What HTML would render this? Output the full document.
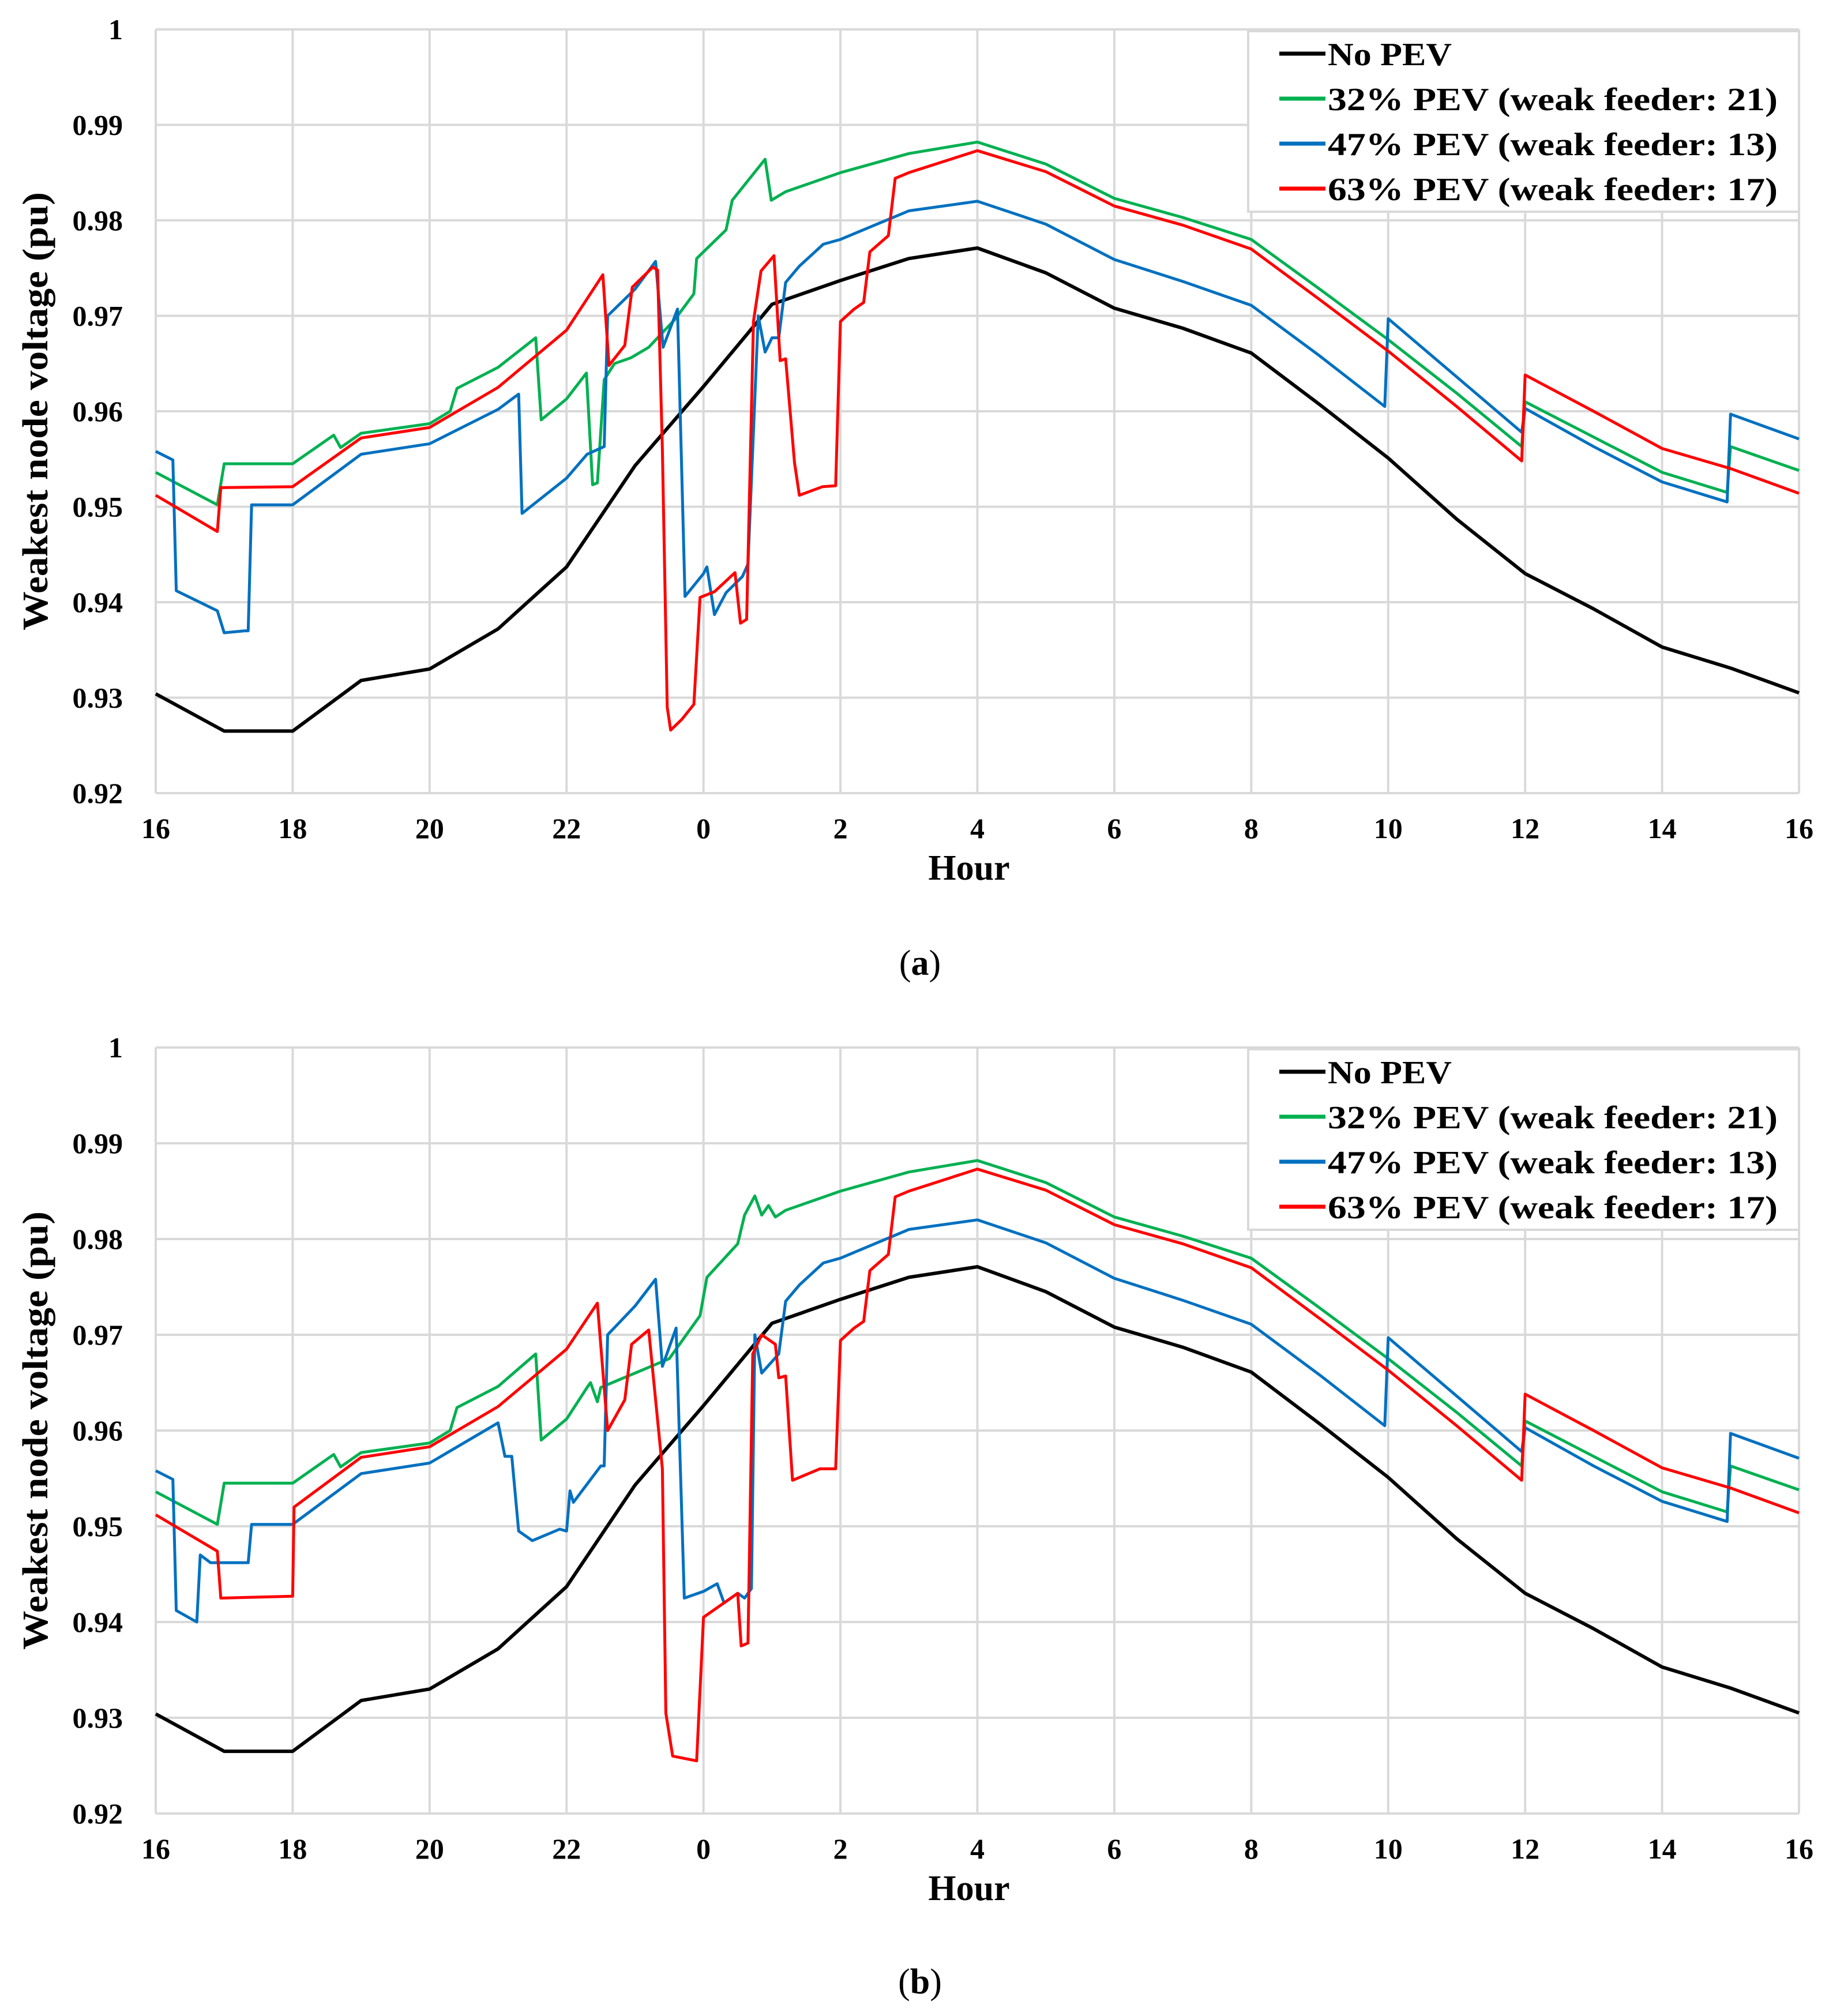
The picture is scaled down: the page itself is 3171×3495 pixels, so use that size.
<!DOCTYPE html>
<html><head><meta charset="utf-8"><style>
html,body{margin:0;padding:0;background:#fff;}
svg{display:block;font-family:"Liberation Serif",serif;font-weight:bold;}
</style></head><body>
<svg id="fig" width="3171" height="3495" viewBox="0 0 3171 3495" xmlns="http://www.w3.org/2000/svg"></svg>
<script>
const xTickLabels = ["16","18","20","22","0","2","4","6","8","10","12","14","16"];
const yTickLabels = ["0.92","0.93","0.94","0.95","0.96","0.97","0.98","0.99","1"];
const yTickValues = [0.92,0.93,0.94,0.95,0.96,0.97,0.98,0.99,1.0];
const seriesNames = ["No PEV","32% PEV (weak feeder: 21)","47% PEV (weak feeder: 13)","63% PEV (weak feeder: 17)"];
const seriesColors = ["#000000","#00b050","#0070c0","#ff0000"];

// hours measured continuously from 16 (16..40)
const noPevH = [16,17,18,19,20,21,22,23,24,25,26,27,28,29,30,31,32,33,34,35,36,37,38,39,40];
const noPevV = [0.9304,0.9265,0.9265,0.9318,0.9330,0.9372,0.9437,0.9543,0.9626,0.9712,0.9737,0.9760,0.9771,0.9745,0.9708,0.9687,0.9661,0.9607,0.9551,0.9487,0.9430,0.9393,0.9353,0.9331,0.9305];

const tailH = [26,27,28,29,30,31,32,33,34,35,35.95,36,37,38,38.95,39,40];
const greenTailV = [0.9850,0.9870,0.9882,0.9859,0.9823,0.9803,0.9780,0.9728,0.9675,0.9619,0.9563,0.9610,0.9573,0.9536,0.9515,0.9563,0.9538];

const greenAH = [16,16.9,17,18,18.6,18.7,19,20,20.3,20.4,21,21.55,21.63,22,22.29,22.38,22.45,22.55,22.7,22.94,23.2,23.58,23.86,23.9,24.33,24.42,24.9,24.99,25.2];
const greenAV = [0.9536,0.9502,0.9545,0.9545,0.9575,0.9562,0.9577,0.9587,0.9600,0.9624,0.9646,0.9677,0.9591,0.9613,0.9640,0.9523,0.9525,0.9633,0.9650,0.9656,0.9667,0.9696,0.9723,0.9760,0.9790,0.9821,0.9864,0.9821,0.9830];
const greenBH = [16,16.9,17,18,18.6,18.7,19,20,20.3,20.4,21,21.55,21.63,22,22.3,22.35,22.45,22.5,23,23.5,23.95,24.05,24.5,24.6,24.75,24.85,24.95,25.05,25.2];
const greenBV = [0.9536,0.9502,0.9545,0.9545,0.9575,0.9562,0.9577,0.9587,0.9600,0.9624,0.9646,0.9680,0.9590,0.9612,0.9645,0.9650,0.9630,0.9645,0.9660,0.9675,0.9720,0.9760,0.9795,0.9825,0.9845,0.9825,0.9835,0.9823,0.9830];

const blueTailH = [25.2,25.4,25.75,26,27,28,29,30,31,32,33,33.95,34,35,35.95,36,37,38,38.95,39,40];
const blueTailV = [0.9735,0.9752,0.9775,0.9780,0.9810,0.9820,0.9796,0.9759,0.9736,0.9711,0.9658,0.9605,0.9697,0.9636,0.9578,0.9603,0.9563,0.9526,0.9505,0.9597,0.9571];
const blueAH = [16,16.25,16.3,16.9,17.0,17.3,17.35,17.4,18,19,20,21,21.3,21.35,22,22.3,22.55,22.6,23,23.3,23.41,23.62,23.73,24.0,24.05,24.16,24.33,24.57,24.65,24.8,24.9,25.0,25.1];
const blueAV = [0.9558,0.9549,0.9412,0.9391,0.9368,0.9370,0.9370,0.9502,0.9502,0.9555,0.9566,0.9602,0.9618,0.9493,0.9530,0.9555,0.9563,0.9700,0.9728,0.9757,0.9667,0.9707,0.9406,0.9430,0.9437,0.9387,0.9410,0.9427,0.9440,0.9700,0.9662,0.9677,0.9677];
const blueBH = [16,16.25,16.3,16.6,16.65,16.8,17.35,17.4,18,19,20,21,21.1,21.2,21.3,21.5,21.9,22.0,22.05,22.1,22.5,22.55,22.6,23,23.3,23.4,23.6,23.72,24.0,24.2,24.3,24.5,24.6,24.7,24.75,24.85,25.1];
const blueBV = [0.9558,0.9549,0.9412,0.9400,0.9470,0.9462,0.9462,0.9502,0.9502,0.9555,0.9566,0.9608,0.9573,0.9573,0.9495,0.9485,0.9497,0.9495,0.9537,0.9525,0.9563,0.9563,0.9700,0.9730,0.9758,0.9667,0.9707,0.9425,0.9432,0.9440,0.9420,0.9430,0.9425,0.9435,0.9700,0.9660,0.9680];

const redTailH = [26,26.2,26.34,26.43,26.7,26.8,27,28,29,30,31,32,33,34,35,35.95,36,37,38,39,40];
const redTailV = [0.9694,0.9707,0.9714,0.9767,0.9784,0.9844,0.9850,0.9873,0.9851,0.9815,0.9795,0.9770,0.9717,0.9663,0.9605,0.9548,0.9638,0.9600,0.9561,0.9540,0.9514];
const redAH = [16,16.9,16.95,18,19,20,21,22,22.53,22.62,22.85,22.96,23.26,23.33,23.4,23.47,23.52,23.68,23.86,23.95,24.16,24.46,24.54,24.63,24.73,24.84,25.03,25.12,25.2,25.33,25.4,25.74,25.93];
const redAV = [0.9512,0.9474,0.9520,0.9521,0.9572,0.9583,0.9625,0.9685,0.9743,0.9648,0.9669,0.9730,0.9751,0.9748,0.9560,0.9290,0.9266,0.9277,0.9293,0.9405,0.9411,0.9431,0.9378,0.9382,0.9694,0.9747,0.9763,0.9653,0.9655,0.9546,0.9512,0.9521,0.9522];
const redBH = [16,16.9,16.95,18,18.02,19,20,21,22,22.45,22.6,22.85,22.95,23.2,23.4,23.45,23.55,23.9,24.0,24.5,24.55,24.65,24.72,24.85,25.05,25.1,25.2,25.3,25.7,25.93];
const redBV = [0.9512,0.9474,0.9425,0.9427,0.9520,0.9572,0.9583,0.9625,0.9685,0.9733,0.9600,0.9632,0.9690,0.9705,0.9560,0.9305,0.9260,0.9255,0.9405,0.9430,0.9375,0.9378,0.9680,0.9700,0.9690,0.9655,0.9657,0.9548,0.9560,0.9560];

const NS="http://www.w3.org/2000/svg";
const svg=document.getElementById('fig');
function mk(tag,attrs,parent){const e=document.createElementNS(NS,tag);for(const k in attrs)e.setAttribute(k,attrs[k]);(parent||svg).appendChild(e);return e;}

function drawChart(id,top,bottom,series,caption,captionY){
  const x0=270,x1=3119;
  const g=mk('g',{});
  
  
  const xs=h=>x0+(h-16)/24*(x1-x0);
  const ys=v=>bottom-(v-0.92)/0.08*(bottom-top);
  yTickValues.forEach((v,i)=>{
    const l=mk('line',{x1:x0,x2:x1,y1:ys(v),y2:ys(v),stroke:'#d9d9d9','stroke-width':4},g);
    
    
    const t=mk('text',{x:213,y:ys(v)+17,'text-anchor':'end','font-size':50},g);
    t.textContent=yTickLabels[i];
    
    
  });
  xTickLabels.forEach((lab,i)=>{
    const h=16+i*2;
    const l=mk('line',{x1:xs(h),x2:xs(h),y1:top,y2:bottom,stroke:'#d9d9d9','stroke-width':4},g);
    
    
    const t=mk('text',{x:xs(h),y:bottom+78,'text-anchor':'middle','font-size':50},g);
    t.textContent=lab;
    
    
  });
  series.forEach((s,si)=>{
    const d=s.h.map((h,i)=>(i?'L':'M')+xs(h).toFixed(1)+' '+ys(s.v[i]).toFixed(1)).join(' ');
    const p=mk('path',{d:d,fill:'none',stroke:seriesColors[si],'stroke-width':si===0?6:5,'stroke-linejoin':'round'},g);
    
    
  });
  const lg=mk('g',{},g);
  
  
  mk('rect',{x:2164,y:top+3,width:955,height:313,fill:'#fff',stroke:'#d9d9d9','stroke-width':4},lg);
  seriesNames.forEach((n,i)=>{
    const by=top+62+i*78;
    mk('line',{x1:2218,x2:2298,y1:by-20,y2:by-20,stroke:seriesColors[i],'stroke-width':7},lg);
    const t=mk('text',{x:2302,y:by,'font-size':56,textLength:i===0?215:780,lengthAdjust:'spacingAndGlyphs'},lg);
    t.textContent=n;
    
    
  });
  const xt=mk('text',{x:1680,y:bottom+150,'text-anchor':'middle','font-size':62},g);
  xt.textContent='Hour';
  
  
  const cy=(top+bottom)/2;
  const yt=mk('text',{x:0,y:0,'text-anchor':'middle','font-size':62,transform:`translate(82 ${cy}) rotate(-90)`,textLength:760,lengthAdjust:'spacingAndGlyphs'},g);
  yt.textContent='Weakest node voltage (pu)';
  
  
  const cap=mk('text',{x:1595,y:captionY,'text-anchor':'middle','font-size':62,'font-weight':'normal'},g);
  cap.innerHTML='(<tspan font-weight="bold">'+caption+'</tspan>)';
  
  
}

drawChart('a',51,1375,[
  {h:noPevH,v:noPevV},
  {h:greenAH.concat(tailH),v:greenAV.concat(greenTailV)},
  {h:blueAH.concat(blueTailH),v:blueAV.concat(blueTailV)},
  {h:redAH.concat(redTailH),v:redAV.concat(redTailV)}
],'a',1690);
drawChart('b',1816,3144,[
  {h:noPevH,v:noPevV},
  {h:greenBH.concat(tailH),v:greenBV.concat(greenTailV)},
  {h:blueBH.concat(blueTailH),v:blueBV.concat(blueTailV)},
  {h:redBH.concat(redTailH),v:redBV.concat(redTailV)}
],'b',3456);
</script>
</body></html>
